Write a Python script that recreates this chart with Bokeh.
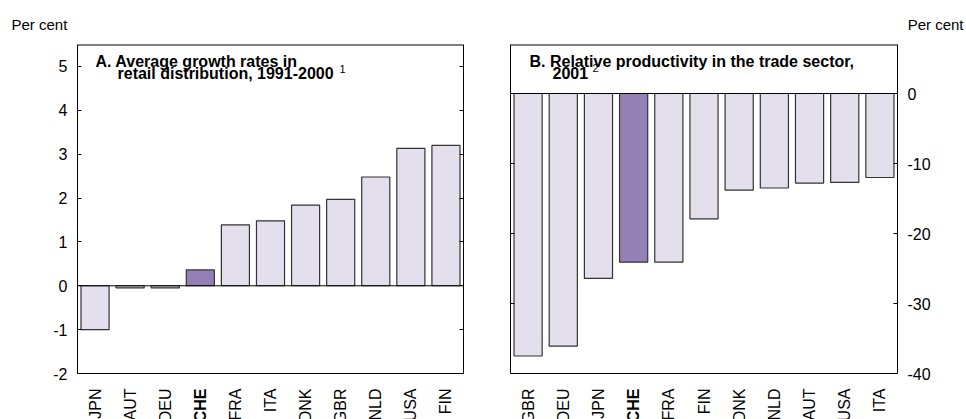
import math
from bokeh.plotting import figure
from bokeh.layouts import row
from bokeh.models import (ColumnDataSource, FactorRange, Range1d, FixedTicker,
                          LinearAxis, Label, Span, Title)
from bokeh.embed import file_html
from bokeh.resources import INLINE

# ---- data ----
cats_a = ["JPN", "AUT", "DEU", "CHE", "FRA", "ITA", "DNK", "GBR", "NLD", "USA", "FIN"]
vals_a = [-1.0, -0.05, -0.05, 0.36, 1.39, 1.48, 1.84, 1.97, 2.48, 3.13, 3.2]

cats_b = ["GBR", "DEU", "JPN", "CHE", "FRA", "FIN", "DNK", "NLD", "AUT", "USA", "ITA"]
vals_b = [-37.5, -36.1, -26.4, -24.1, -24.1, -17.9, -13.8, -13.5, -12.8, -12.7, -12.0]

ticks_a = [-2, -1, 0, 1, 2, 3, 4, 5]
ticks_b = [-40, -30, -20, -10, 0]
yrange_a = (-2, 5.5)
yrange_b = (-40, 7)

title_a1 = "A. Average growth rates in"
title_a2 = "retail distribution, 1991-2000"
note_a = "1"
title_b1 = "B. Relative productivity in the trade sector,"
title_b2 = "2001"
note_b = "2"
unit = "Per cent"
highlight = "CHE"

LIGHT = "#E3DFED"
DARK = "#9580B5"
EDGE = "#333333"
FONT = "Liberation Sans"
H = 419
TOP = 44          # px above the chart box
BOX = 329         # px height of the chart box
BELOW = H - TOP - BOX   # px left below it for the country names


def colors(cats):
    return [DARK if c == highlight else LIGHT for c in cats]


def extended_range(lo, hi):
    # the plotting frame runs to the bottom of the canvas so that the
    # country names below the chart box are drawn inside it
    per_px = (hi - lo) / BOX
    return Range1d(lo - BELOW * per_px, hi)


def style(p, ticks, yr, tick_axis):
    p.yaxis.ticker = FixedTicker(ticks=ticks)
    for ax in p.yaxis:
        ax.bounds = yr
        ax.major_tick_in = 4
        ax.major_tick_out = 0
        ax.minor_tick_line_color = None
        ax.axis_line_color = "black"
        ax.major_tick_line_color = "black"
        ax.major_label_text_font = FONT
        ax.major_label_text_font_size = "16px"
        ax.major_label_text_color = "black"
        ax.major_label_standoff = 10
        ax.major_label_overrides = {t: str(t) for t in ticks}
    tick_axis.major_label_text_color = None
    tick_axis.major_label_standoff = 0
    p.xaxis.visible = False
    p.grid.visible = False
    p.outline_line_color = None
    p.background_fill_color = "white"
    p.add_layout(Span(location=yr[1], dimension="width", line_color="black", line_width=2))
    p.add_layout(Span(location=yr[0], dimension="width", line_color="black", line_width=1))
    p.add_layout(Span(location=0, dimension="width", line_color="black", line_width=1))


def cat_labels(p, cats, base):
    # factor i of a FactorRange sits at synthetic coordinate i + 0.5
    for i, c in enumerate(cats):
        p.add_layout(Label(x=i + 0.5, y=base, y_offset=-15, text=c, angle=math.pi / 2,
                           text_align="right", text_baseline="middle",
                           text_font=FONT, text_font_size="16px",
                           text_font_style="bold" if c == highlight else "normal",
                           text_color="black"))


def txt(p, x, y, s, size, bold=False):
    # x, y: px from the chart box's left / top edge
    p.add_layout(Label(x=x, y=BOX + BELOW - y, x_units="screen", y_units="screen", text=s,
                       text_align="left", text_baseline="alphabetic", text_font=FONT,
                       text_font_size=size, text_font_style="bold" if bold else "normal",
                       text_color="black"))


def unit_title(p, align, offset):
    p.add_layout(Title(text=unit, align=align, offset=offset, standoff=23,
                       text_font=FONT, text_font_size="15px", text_font_style="normal",
                       text_color="black"), "above")


def bars(p, cats, vals):
    src = ColumnDataSource(dict(x=cats, top=vals, color=colors(cats)))
    p.vbar(x="x", top="top", bottom=0, width=0.8, source=src, fill_color="color",
           line_color=EDGE, line_width=1.2)


# ---- panel A ----
pa = figure(width=483, height=H, x_range=FactorRange(*cats_a),
            y_range=extended_range(*yrange_a),
            output_backend="svg", toolbar_location=None,
            min_border_left=77, min_border_right=20, min_border_top=TOP, min_border_bottom=0)
bars(pa, cats_a, vals_a)
ra = LinearAxis()
pa.add_layout(ra, "right")
style(pa, ticks_a, yrange_a, ra)
cat_labels(pa, cats_a, yrange_a[0])
unit_title(pa, "left", -66)

txt(pa, 18, 17, title_a1, "16px", bold=True)
txt(pa, 40, 29, title_a2, "16px", bold=True)
txt(pa, 262, 24, note_a, "11px")

# ---- panel B ----
pb = figure(width=483, height=H, x_range=FactorRange(*cats_b),
            y_range=extended_range(*yrange_b),
            output_backend="svg", toolbar_location=None, y_axis_location="right",
            min_border_left=27, min_border_right=69, min_border_top=TOP, min_border_bottom=0)
bars(pb, cats_b, vals_b)
la = LinearAxis()
pb.add_layout(la, "left")
style(pb, ticks_b, yrange_b, la)
cat_labels(pb, cats_b, yrange_b[0])
unit_title(pb, "right", -66)

txt(pb, 19, 17, title_b1, "16px", bold=True)
txt(pb, 42, 28, title_b2, "16px", bold=True)
txt(pb, 82, 23, note_b, "11px")

layout = row(pa, pb)
open("out.html", "w").write(file_html(layout, INLINE))
